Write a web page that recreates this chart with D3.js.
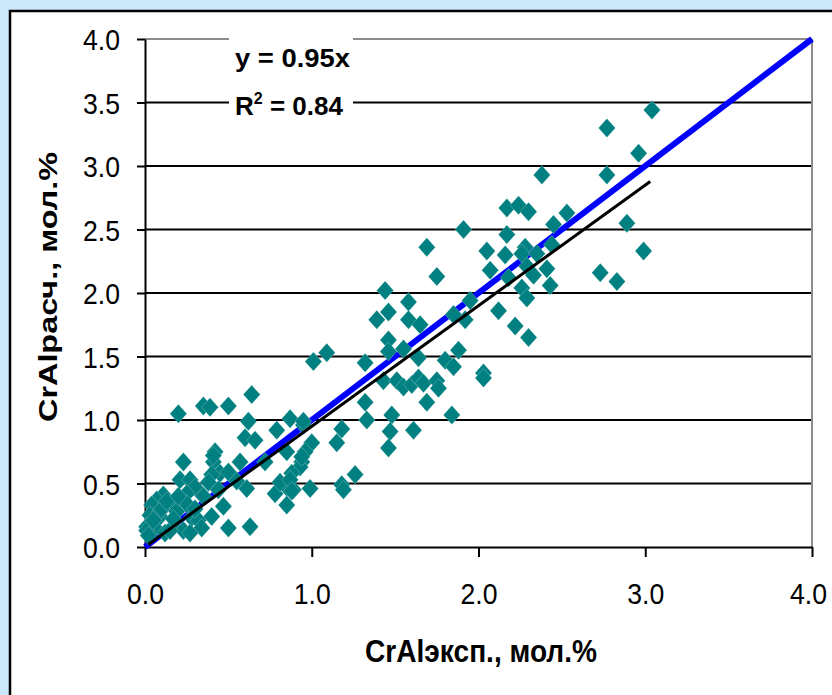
<!DOCTYPE html>
<meta charset="utf-8">
<script src="https://d3js.org/d3.v7.min.js"></script>
<body style="margin:0">
<svg width="832" height="695"></svg>
<script>
  // experimental vs calculated CrAl, mol.%
  var xExp = [
    3.04, 2.77, 2.96, 2.38, 2.77, 2.17, 2.24, 2.30, 2.53, 1.91, 2.45, 2.89, 2.17, 2.05, 2.16,
    2.28, 2.26, 2.35, 2.44, 2.99, 2.07, 2.18, 2.29, 2.33, 2.41, 2.26, 2.29, 2.43, 2.73, 2.83,
    1.95, 2.12, 1.92, 2.22, 2.30, 1.75, 1.44, 1.58, 1.46, 1.39, 1.58, 1.65, 1.85, 1.46, 1.46,
    1.55, 1.64, 1.88, 1.80, 1.85, 2.03, 2.03, 1.01, 1.09, 1.32, 1.43, 1.51, 1.55, 1.60, 1.64,
    1.67, 1.75, 1.76, 1.69, 1.84, 1.32, 1.33, 1.48, 1.47, 1.61, 1.46, 1.18, 1.15, 1.26, 1.18,
    1.19, 0.99, 0.89, 0.95, 1.00, 0.96, 0.94, 0.93, 0.88, 1.69, 0.20, 0.35, 0.39, 0.50, 0.64,
    0.62, 0.60, 0.66, 0.79, 0.87, 0.95, 0.85, 0.94, 0.72, 0.57, 0.42, 0.41, 0.23, 0.45, 0.50,
    0.40, 0.38, 0.61, 0.47, 0.50, 0.63, 0.78, 0.85, 0.81, 0.87, 0.88, 0.85, 0.21, 0.27, 0.30,
    0.25, 0.35, 0.11, 0.07, 0.04, 0.15, 0.19, 0.03, 0.09, 0.01, 0.06, 0.17, 0.23, 0.28, 0.32,
    0.34, 0.40, 0.12, 0.27, 0.09, 0.25, 0.01, 0.05, 0.15, 0.41, 0.10, 0.13, 0.17, 0.20, 0.02,
    0.30, 0.55, 0.44
  ];
  var yCalc = [
    3.44, 3.30, 3.10, 2.93, 2.93, 2.67, 2.69, 2.64, 2.63, 2.50, 2.54, 2.55, 2.46, 2.33, 2.30,
    2.36, 2.31, 2.31, 2.38, 2.33, 2.18, 2.12, 2.21, 2.14, 2.19, 2.04, 1.96, 2.06, 2.16, 2.09,
    1.94, 1.86, 1.79, 1.74, 1.65, 2.13, 2.02, 1.93, 1.85, 1.79, 1.79, 1.75, 1.83, 1.63, 1.54,
    1.56, 1.49, 1.55, 1.47, 1.42, 1.37, 1.33, 1.46, 1.53, 1.45, 1.31, 1.31, 1.26, 1.28, 1.33,
    1.29, 1.31, 1.25, 1.14, 1.04, 1.14, 1.00, 1.04, 0.91, 0.92, 0.78, 0.93, 0.82, 0.57, 0.49,
    0.45, 0.46, 0.45, 0.96, 0.82, 0.75, 0.67, 0.63, 0.58, 2.36, 1.05, 1.11, 1.10, 1.11, 1.20,
    0.99, 0.86, 0.84, 0.92, 1.01, 0.99, 0.75, 0.71, 0.67, 0.67, 0.75, 0.67, 0.67, 0.58, 0.59,
    0.57, 0.51, 0.46, 0.32, 0.15, 0.16, 0.42, 0.47, 0.51, 0.53, 0.44, 0.33, 0.53, 0.53, 0.47,
    0.42, 0.40, 0.41, 0.37, 0.33, 0.34, 0.28, 0.25, 0.24, 0.16, 0.15, 0.16, 0.13, 0.23, 0.21,
    0.15, 0.24, 0.11, 0.11, 0.28, 0.34, 0.13, 0.21, 0.13, 0.72, 0.30, 0.36, 0.22, 0.40, 0.09,
    0.30, 0.52, 0.45
  ];
  var xTicks = [0, 1, 2, 3, 4];
  var yTicks = [0, 0.5, 1, 1.5, 2, 2.5, 3, 3.5, 4];
  var identity = [0, 4];          // y = x reference line
  var fitSlope = 0.95, fitR2 = 0.84, fitRange = [0.02, 3.03];
  var xTitle = 'CrAlэксп., мол.%', yTitle = 'CrAlрасч., мол.%';

  var svg = d3.select('svg');
  var font = '"Liberation Sans", Arial, sans-serif';

  svg.append('rect').attr('width', 832).attr('height', 695).attr('fill', '#cce9fb');
  svg.append('rect').attr('x', 10).attr('y', 11).attr('width', 900).attr('height', 900)
    .attr('fill', '#fff').attr('stroke', '#000').attr('stroke-width', 2.5);

  var x = d3.scaleLinear().domain([0, 4]).range([145, 812]);
  var y = d3.scaleLinear().domain([0, 4]).range([547, 39]);

  /* ----------- grid ----------- */
  svg.selectAll('line.grid').data(yTicks.filter(function(d){ return d > 0; }))
    .enter().append('line')
    .attr('class', 'grid')
    .attr('x1', x(0)).attr('x2', x(4))
    .attr('y1', function(d){ return y(d); }).attr('y2', function(d){ return y(d); })
    .attr('stroke', function(d){ return d === 4 ? '#8c8c8c' : '#000'; })
    .attr('stroke-width', 2);

  svg.append('line')
    .attr('x1', x(4)).attr('x2', x(4)).attr('y1', y(4)).attr('y2', y(0))
    .attr('stroke', '#8c8c8c').attr('stroke-width', 2);

  /* ----------- axes ----------- */
  var yAxis = svg.append('g').attr('transform', 'translate(' + x(0) + ',0)')
    .call(d3.axisLeft(y).tickValues(yTicks).tickSize(8).tickSizeOuter(0).tickPadding(17)
      .tickFormat(d3.format('.1f')));
  var xAxis = svg.append('g').attr('transform', 'translate(0,' + y(0) + ')')
    .call(d3.axisBottom(x).tickValues(xTicks).tickSize(10).tickSizeOuter(0).tickPadding(26)
      .tickFormat(d3.format('.1f')));

  [xAxis, yAxis].forEach(function(a){
    a.select('.domain').attr('stroke', '#000').attr('stroke-width', 2);
    a.selectAll('.tick line').attr('stroke', '#000').attr('stroke-width', 2);
    a.selectAll('.tick text')
      .attr('fill', '#000')
      .style('font-family', font)
      .style('font-size', '30px')
      .attr('textLength', 37)
      .attr('lengthAdjust', 'spacingAndGlyphs');
  });
  yAxis.selectAll('.tick text').attr('dy', '0.36em');
  xAxis.selectAll('.tick text').filter(function(d){ return d === 4; }).attr('x', -4);

  /* ----------- lines & points ----------- */
  svg.append('line')
    .attr('x1', x(identity[0])).attr('y1', y(identity[0]))
    .attr('x2', x(identity[1])).attr('y2', y(identity[1]))
    .attr('stroke', '#0000ff').attr('stroke-width', 6);

  var diamond = function(cx, cy){
    return 'M' + cx + ',' + (cy - 9.5) + 'L' + (cx + 8.5) + ',' + cy +
      'L' + cx + ',' + (cy + 9.5) + 'L' + (cx - 8.5) + ',' + cy + 'Z';
  };
  svg.selectAll('path.pt').data(d3.range(xExp.length))
    .enter().append('path')
    .attr('class', 'pt')
    .attr('d', function(i){ return diamond(x(xExp[i]), y(yCalc[i])); })
    .attr('fill', '#008080')
    .attr('stroke', '#fff').attr('stroke-width', 0.4).attr('stroke-opacity', 0.6);

  svg.append('line')
    .attr('x1', x(fitRange[0])).attr('y1', y(fitSlope * fitRange[0]))
    .attr('x2', x(fitRange[1])).attr('y2', y(fitSlope * fitRange[1]))
    .attr('stroke', '#000').attr('stroke-width', 3);

  /* ----------- equation label ----------- */
  svg.append('rect').attr('x', 229).attr('y', 33).attr('width', 124).attr('height', 87).attr('fill', '#fff');
  svg.append('text')
    .attr('x', 235).attr('y', 67)
    .style('font-family', font).style('font-weight', 'bold').style('font-size', '26px')
    .attr('textLength', 115).attr('lengthAdjust', 'spacingAndGlyphs')
    .text('y = ' + fitSlope + 'x');
  var r2 = svg.append('text')
    .attr('x', 235).attr('y', 115)
    .style('font-family', font).style('font-weight', 'bold').style('font-size', '26px');
  r2.append('tspan').text('R');
  r2.append('tspan').attr('dy', -11).style('font-size', '16px').text('2');
  r2.append('tspan').attr('dy', 11).text(' = ' + fitR2.toFixed(2));

  /* ----------- titles ----------- */
  svg.append('text')
    .attr('x', 481).attr('y', 662).attr('text-anchor', 'middle')
    .style('font-family', font).style('font-weight', 'bold').style('font-size', '31px')
    .attr('textLength', 232).attr('lengthAdjust', 'spacingAndGlyphs')
    .text(xTitle);
  svg.append('text')
    .attr('transform', 'translate(57,287) rotate(-90)').attr('text-anchor', 'middle')
    .style('font-family', font).style('font-weight', 'bold').style('font-size', '25px')
    .attr('textLength', 270).attr('lengthAdjust', 'spacingAndGlyphs')
    .text(yTitle);
</script>
</body>
